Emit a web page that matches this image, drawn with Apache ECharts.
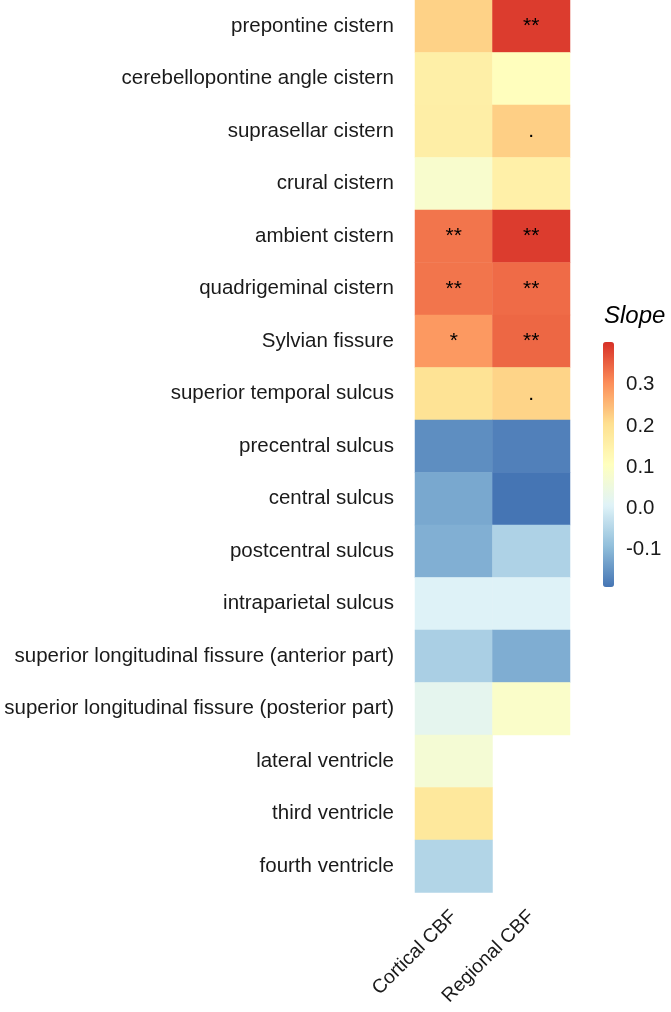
<!DOCTYPE html>
<html>
<head>
<meta charset="utf-8">
<script src="https://cdn.jsdelivr.net/npm/echarts@6/dist/echarts.min.js"></script>
<style>
  html, body { margin: 0; padding: 0; background: #fff; }
  #chart { width: 671px; height: 1012px; }
</style>
</head>
<body>
<div id="chart"></div>
<script>
// rows, top to bottom
const regions = [
    'prepontine cistern',
    'cerebellopontine angle cistern',
    'suprasellar cistern',
    'crural cistern',
    'ambient cistern',
    'quadrigeminal cistern',
    'Sylvian fissure',
    'superior temporal sulcus',
    'precentral sulcus',
    'central sulcus',
    'postcentral sulcus',
    'intraparietal sulcus',
    'superior longitudinal fissure (anterior part)',
    'superior longitudinal fissure (posterior part)',
    'lateral ventricle',
    'third ventricle',
    'fourth ventricle'
];
const measures = ['Cortical CBF', 'Regional CBF'];

// slopes
const corticalSlope = [0.222, 0.157, 0.16, 0.083, 0.33, 0.33, 0.29, 0.195, -0.157, -0.122, -0.112, 0.005, -0.06, 0.025, 0.07, 0.18, -0.05];
const regionalSlope = [0.39, 0.11, 0.225, 0.155, 0.39, 0.34, 0.345, 0.22, -0.175, -0.19, -0.055, 0.005, -0.115, 0.09, null, null, null];

// significance marks
const corticalSig = ['', '', '', '', '**', '**', '*', '', '', '', '', '', '', '', '', '', ''];
const regionalSig = ['**', '', '.', '', '**', '**', '**', '.', '', '', '', '', '', '', '', '', ''];

const legendTicks = [-0.1, 0.0, 0.1, 0.2, 0.3];
const slopeMin = -0.19;
const slopeMax = 0.403;

const data = [];
regions.forEach(function (r, i) {
    if (corticalSlope[i] !== null) data.push([0, i, corticalSlope[i], corticalSig[i]]);
    if (regionalSlope[i] !== null) data.push([1, i, regionalSlope[i], regionalSig[i]]);
});

const dom = document.getElementById('chart');
const myChart = echarts.init(dom);

const font = 'Liberation Sans, Arial, sans-serif';

const option = {
    animation: false,
    title: {
        text: 'Slope',
        left: 604,
        top: 304,
        padding: 0,
        textStyle: { fontFamily: font, fontSize: 24, fontStyle: 'italic', fontWeight: 'normal', color: '#000' }
    },
    grid: [
        { left: 415, top: 0, width: 155, height: 892.5 },
        // grid behind the colour bar, only for its tick labels
        { left: 603, top: 342, width: 11, height: 245 }
    ],
    xAxis: [
        {
            type: 'category',
            gridIndex: 0,
            data: measures,
            axisLine: { show: false },
            axisTick: { show: false },
            splitLine: { show: false },
            axisLabel: {
                rotate: 45,
                interval: 0,
                margin: 21,
                fontFamily: font,
                fontSize: 19.5,
                color: '#1a1a1a'
            }
        },
        {
            type: 'value',
            gridIndex: 1,
            show: false
        }
    ],
    yAxis: [
        {
            type: 'category',
            gridIndex: 0,
            data: regions,
            inverse: true,
            axisLine: { show: false },
            axisTick: { show: false },
            splitLine: { show: false },
            axisLabel: {
                interval: 0,
                margin: 21,
                fontFamily: font,
                fontSize: 20.5,
                color: '#1a1a1a'
            }
        },
        {
            type: 'value',
            gridIndex: 1,
            position: 'right',
            min: slopeMin,
            max: slopeMax,
            axisLine: { show: false },
            splitLine: { show: false },
            axisTick: {
                show: true,
                inside: true,
                length: 3,
                customValues: legendTicks,
                lineStyle: { color: '#fff', width: 1 }
            },
            axisLabel: {
                customValues: legendTicks,
                margin: 12,
                fontFamily: font,
                fontSize: 20.5,
                color: '#1a1a1a',
                formatter: function (v) { return v.toFixed(1); }
            },
            z: 20
        }
    ],
    visualMap: {
        type: 'continuous',
        min: slopeMin,
        max: slopeMax,
        seriesIndex: 0,
        dimension: 2,
        calculable: false,
        realtime: false,
        left: 603,
        top: 342,
        padding: 0,
        itemWidth: 11,
        itemHeight: 245,
        text: null,
        showLabel: false,
        inRange: {
            color: ['#4575b4', '#91bfdb', '#e0f3f8', '#ffffbf', '#fee090', '#fc8d59', '#d73027']
        }
    },
    series: [{
        type: 'heatmap',
        xAxisIndex: 0,
        yAxisIndex: 0,
        data: data,
        label: {
            show: true,
            fontFamily: font,
            fontSize: 21,
            color: '#000',
            formatter: function (p) { return p.data[3]; }
        },
        itemStyle: { borderWidth: 0 },
        emphasis: { disabled: true }
    }]
};

myChart.setOption(option);
</script>
</body>
</html>
